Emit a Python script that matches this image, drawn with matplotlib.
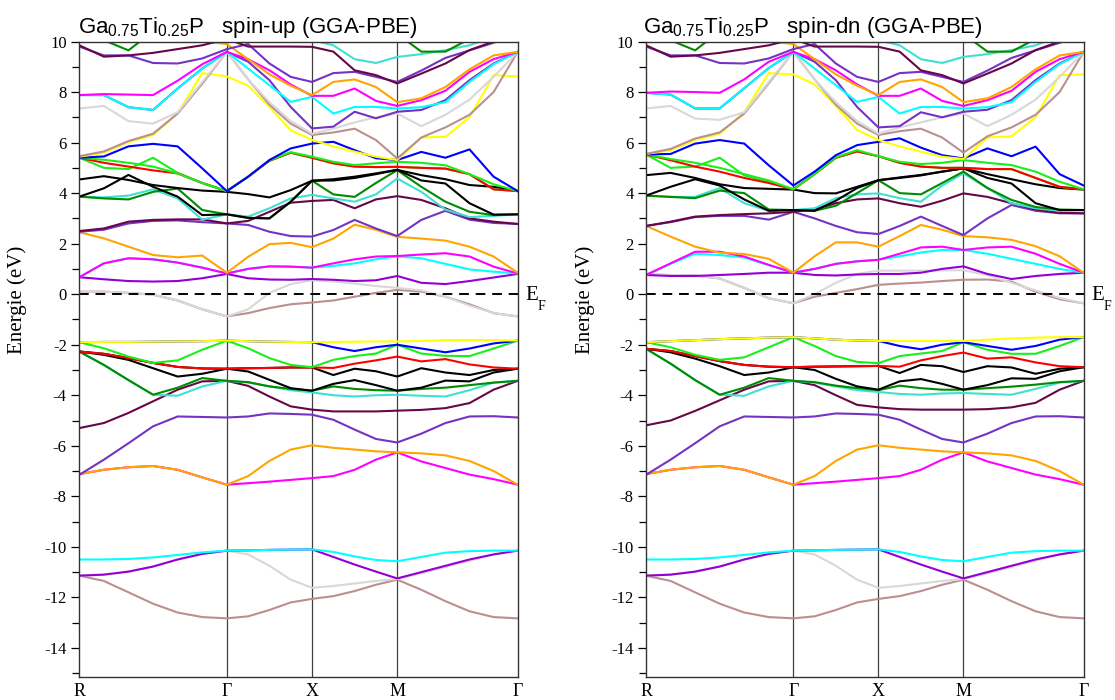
import numpy as np
import matplotlib.pyplot as plt

plt.rcParams['axes.unicode_minus'] = False
plt.rcParams['mathtext.default'] = 'regular'

# high-symmetry path of the simple-cubic supercell
k_labels = ["R", "Γ", "X", "M", "Γ"]
k_nodes = [0.0, 1.732, 2.732, 3.732, 5.146]
n_seg = [6, 4, 4, 5]

k = [k_nodes[0]]
for a, b, n in zip(k_nodes[:-1], k_nodes[1:], n_seg):
    k.extend(np.linspace(a, b, n + 1)[1:])
k = np.array(k)

# xmgrace palette
colors = {
    'black': '#000000', 'red': '#ff0000', 'green': '#19f019', 'blue': '#0000ff',
    'yellow': '#ffff00', 'brown': '#bc8f8f', 'grey': '#d8d8d8', 'violet': '#9400d3',
    'cyan': '#00ffff', 'magenta': '#ff00ff', 'orange': '#ffa500', 'indigo': '#7433c4',
    'maroon': '#670748', 'turquoise': '#40e0d0', 'green4': '#008b00',
}

# ---- semicore / lower valence bands (eV), same for both spins ----
core_brown = [-11.14, -11.35, -11.8, -12.25, -12.6, -12.78, -12.83, -12.75, -12.5, -12.2, -12.06, -11.95, -11.75, -11.5, -11.3, -11.7, -12.15, -12.55, -12.78, -12.83]
core_grey = [-11.14, -11.1, -10.98, -10.78, -10.5, -10.28, -10.15, -10.3, -10.75, -11.3, -11.62, -11.55, -11.45, -11.35, -11.27, -11.05, -10.8, -10.55, -10.3, -10.15]
core_violet = [-11.14, -11.1, -10.98, -10.78, -10.5, -10.28, -10.15, -10.14, -10.12, -10.11, -10.1, -10.4, -10.7, -10.98, -11.25, -11.0, -10.75, -10.5, -10.3, -10.15]
core_cyan = [-10.5, -10.5, -10.48, -10.42, -10.32, -10.22, -10.15, -10.14, -10.12, -10.11, -10.1, -10.2, -10.38, -10.52, -10.57, -10.4, -10.23, -10.17, -10.15, -10.15]

val_magenta = [-7.12, -6.95, -6.85, -6.8, -6.95, -7.25, -7.54, -7.48, -7.42, -7.35, -7.28, -7.2, -6.95, -6.55, -6.26, -6.62, -6.88, -7.14, -7.32, -7.54]
val_orange = [-7.12, -6.95, -6.85, -6.8, -6.95, -7.25, -7.54, -7.2, -6.6, -6.15, -5.98, -6.08, -6.15, -6.22, -6.26, -6.3, -6.38, -6.6, -7.0, -7.54]
val_indigo = [-7.15, -6.55, -5.9, -5.23, -4.84, -4.86, -4.88, -4.84, -4.72, -4.74, -4.77, -4.97, -5.36, -5.73, -5.87, -5.52, -5.1, -4.84, -4.83, -4.88]

# ---- spin-up: upper valence ----
up_val_maroon = [-5.3, -5.1, -4.7, -4.24, -3.78, -3.45, -3.43, -3.63, -4.05, -4.44, -4.57, -4.64, -4.64, -4.64, -4.61, -4.58, -4.51, -4.31, -3.78, -3.43]
up_val_turquoise = [-2.27, -2.8, -3.4, -3.98, -4.02, -3.65, -3.43, -3.5, -3.65, -3.8, -3.89, -4.0, -4.05, -4.0, -3.98, -4.02, -4.05, -3.8, -3.5, -3.43]
up_val_green4 = [-2.27, -2.8, -3.4, -3.98, -3.7, -3.32, -3.43, -3.48, -3.65, -3.75, -3.82, -3.65, -3.75, -3.8, -3.82, -3.75, -3.7, -3.6, -3.5, -3.43]
up_val_black1 = [-2.27, -2.4, -2.6, -2.93, -3.26, -3.15, -2.95, -3.06, -3.39, -3.72, -3.82, -3.55, -3.4, -3.6, -3.82, -3.7, -3.42, -3.45, -3.1, -2.95]
up_val_black2 = [-2.27, -2.36, -2.53, -2.72, -2.88, -2.94, -2.95, -2.93, -2.92, -2.9, -2.9, -3.2, -2.95, -3.05, -3.26, -2.93, -3.1, -3.2, -3.0, -2.95]
up_val_red = [-2.27, -2.36, -2.53, -2.72, -2.88, -2.94, -2.95, -2.93, -2.92, -2.9, -2.9, -2.92, -2.75, -2.62, -2.47, -2.66, -2.57, -2.78, -2.9, -2.95]
up_val_green = [-1.9, -2.14, -2.47, -2.72, -2.62, -2.2, -1.84, -2.14, -2.53, -2.8, -2.89, -2.6, -2.45, -2.35, -2.0, -2.35, -2.44, -2.45, -2.15, -1.84]
up_val_blue = [-1.9, -1.89, -1.89, -1.88, -1.87, -1.86, -1.84, -1.86, -1.88, -1.89, -1.9, -2.1, -2.25, -2.1, -2.0, -2.15, -2.3, -2.15, -1.95, -1.84]
up_val_yellow = [-1.9, -1.89, -1.89, -1.88, -1.87, -1.86, -1.84, -1.86, -1.88, -1.89, -1.9, -1.89, -1.88, -1.87, -1.87, -1.85, -1.82, -1.81, -1.82, -1.84]

# ---- spin-dn: upper valence ----
dn_val_maroon = [-5.19, -5.0, -4.62, -4.2, -3.78, -3.45, -3.43, -3.6, -4.0, -4.38, -4.48, -4.55, -4.57, -4.57, -4.57, -4.55, -4.48, -4.3, -3.78, -3.43]
dn_val_turquoise = [-2.16, -2.75, -3.4, -3.98, -4.02, -3.65, -3.43, -3.5, -3.65, -3.8, -3.87, -3.95, -3.98, -3.93, -3.91, -3.95, -3.98, -3.75, -3.5, -3.43]
dn_val_green4 = [-2.16, -2.75, -3.4, -3.98, -3.7, -3.32, -3.43, -3.48, -3.62, -3.72, -3.8, -3.62, -3.72, -3.78, -3.78, -3.72, -3.66, -3.58, -3.48, -3.43]
dn_val_black1 = [-2.16, -2.3, -2.55, -2.85, -3.2, -3.1, -2.89, -3.0, -3.35, -3.65, -3.78, -3.45, -3.36, -3.55, -3.78, -3.6, -3.33, -3.35, -3.05, -2.89]
dn_val_black2 = [-2.16, -2.25, -2.45, -2.65, -2.8, -2.87, -2.89, -2.87, -2.86, -2.85, -2.84, -3.12, -2.8, -2.85, -3.08, -2.85, -2.9, -3.15, -2.95, -2.89]
dn_val_red = [-2.16, -2.25, -2.45, -2.65, -2.8, -2.87, -2.89, -2.87, -2.86, -2.85, -2.84, -2.87, -2.62, -2.45, -2.31, -2.55, -2.5, -2.7, -2.85, -2.89]
dn_val_green = [-1.9, -2.1, -2.4, -2.6, -2.5, -2.1, -1.7, -2.05, -2.45, -2.68, -2.73, -2.45, -2.35, -2.25, -1.9, -2.2, -2.36, -2.36, -2.05, -1.7]
dn_val_blue = [-1.9, -1.86, -1.82, -1.78, -1.75, -1.72, -1.7, -1.75, -1.8, -1.83, -1.85, -2.05, -2.18, -2.0, -1.9, -2.05, -2.2, -2.05, -1.8, -1.7]
dn_val_yellow = [-1.9, -1.86, -1.82, -1.78, -1.75, -1.72, -1.7, -1.75, -1.8, -1.83, -1.85, -1.85, -1.85, -1.85, -1.85, -1.8, -1.75, -1.72, -1.7, -1.7]

# ---- spin-up: bands around E_F and conduction bands ----
up_ef_brown = [0.1, 0.1, 0.05, -0.02, -0.25, -0.6, -0.88, -0.75, -0.55, -0.4, -0.33, -0.25, -0.1, 0.05, 0.17, 0.1, -0.1, -0.4, -0.75, -0.88]
up_ef_grey = [0.1, 0.1, 0.05, -0.02, -0.25, -0.6, -0.88, -0.6, 0.05, 0.4, 0.55, 0.5, 0.42, 0.32, 0.25, 0.15, -0.1, -0.45, -0.75, -0.88]
up_violet = [0.67, 0.59, 0.52, 0.5, 0.52, 0.63, 0.8, 0.63, 0.58, 0.57, 0.6, 0.57, 0.52, 0.55, 0.72, 0.45, 0.4, 0.52, 0.66, 0.8]
up_cyan = [0.67, 1.22, 1.42, 1.38, 1.25, 1.05, 0.82, 1.0, 1.1, 1.09, 1.05, 1.12, 1.22, 1.38, 1.5, 1.42, 1.2, 0.98, 0.89, 0.82]
up_magenta = [0.67, 1.22, 1.42, 1.38, 1.25, 1.05, 0.82, 1.0, 1.1, 1.09, 1.05, 1.22, 1.38, 1.49, 1.51, 1.57, 1.62, 1.49, 1.09, 0.82]
up_orange = [2.45, 2.21, 1.88, 1.55, 1.46, 1.53, 0.85, 1.48, 1.98, 2.03, 1.86, 2.2, 2.75, 2.55, 2.27, 2.2, 2.12, 1.88, 1.49, 0.85]
up_indigo = [2.47, 2.55, 2.8, 2.9, 2.92, 2.85, 2.8, 2.74, 2.47, 2.3, 2.28, 2.54, 2.94, 2.6, 2.3, 2.94, 3.3, 2.95, 2.82, 2.78]
up_maroon = [2.5, 2.6, 2.87, 2.94, 2.96, 2.96, 2.8, 2.9, 3.26, 3.62, 3.69, 3.73, 3.4, 3.75, 3.88, 3.73, 3.4, 3.0, 2.87, 2.78]
up_turquoise = [3.86, 3.83, 3.9, 4.15, 3.79, 2.95, 3.16, 3.07, 3.4, 3.79, 3.93, 3.79, 3.66, 3.95, 4.58, 4.05, 3.35, 3.05, 3.1, 3.16]
up_green4 = [3.86, 3.79, 3.75, 4.05, 4.18, 3.33, 3.16, 3.02, 3.0, 3.66, 4.49, 3.95, 3.85, 4.4, 4.91, 4.25, 3.66, 3.26, 3.13, 3.16]
up_black1 = [3.86, 4.19, 4.72, 4.25, 3.86, 3.13, 3.16, 3.02, 3.0, 3.66, 4.49, 4.5, 4.6, 4.75, 4.92, 4.5, 4.38, 3.6, 3.15, 3.16]
up_black2 = [4.54, 4.67, 4.52, 4.32, 4.2, 4.1, 4.05, 3.96, 3.83, 4.12, 4.49, 4.55, 4.65, 4.78, 4.92, 4.71, 4.55, 4.32, 4.25, 4.08]
up_green_b = [5.4, 5.0, 4.95, 5.4, 4.8, 4.4, 4.08, 4.65, 5.28, 5.6, 5.4, 5.18, 5.05, 5.03, 5.04, 5.0, 4.97, 4.75, 4.15, 4.08]
up_red = [5.4, 5.2, 5.05, 4.9, 4.78, 4.4, 4.08, 4.65, 5.28, 5.6, 5.4, 5.18, 5.05, 5.03, 5.04, 5.0, 4.97, 4.75, 4.15, 4.08]
up_green = [5.4, 5.32, 5.2, 5.05, 4.78, 4.4, 4.08, 4.65, 5.3, 5.62, 5.44, 5.24, 5.11, 5.18, 5.24, 5.2, 5.1, 4.75, 4.35, 4.08]
up_blue = [5.4, 5.45, 5.85, 5.95, 5.85, 4.98, 4.08, 4.65, 5.31, 5.77, 5.96, 6.03, 5.7, 5.38, 5.31, 5.63, 5.4, 5.73, 4.65, 4.08]
up_yellow = [5.44, 5.6, 6.02, 6.3, 7.15, 8.75, 8.62, 8.25, 7.41, 6.49, 6.1, 5.85, 5.64, 5.44, 5.31, 6.2, 6.23, 7.0, 8.67, 8.62]
up_brown = [5.46, 5.65, 6.06, 6.35, 7.15, 8.33, 9.59, 8.5, 7.5, 6.75, 6.3, 6.4, 6.55, 6.1, 5.37, 6.2, 6.6, 7.1, 8.0, 9.59]
up_grey = [7.35, 7.45, 6.85, 6.75, 7.2, 8.4, 9.59, 8.5, 7.6, 6.85, 6.35, 6.55, 6.8, 7.0, 7.15, 6.65, 7.1, 7.7, 8.6, 9.59]
up_indigo2 = [7.88, 7.88, 7.4, 7.29, 8.14, 8.93, 9.59, 9.2, 8.47, 7.41, 6.56, 6.63, 7.22, 6.96, 7.22, 7.29, 7.68, 8.47, 9.13, 9.59]
up_cyan2 = [7.88, 7.88, 7.4, 7.29, 8.14, 8.93, 9.59, 8.93, 8.27, 7.61, 7.81, 7.15, 7.41, 7.41, 7.35, 7.4, 7.6, 8.4, 9.1, 9.59]
up_magenta2 = [7.88, 7.92, 7.9, 7.88, 8.45, 9.1, 9.59, 9.3, 8.86, 8.3, 7.85, 7.85, 8.14, 7.65, 7.45, 7.68, 8.05, 8.8, 9.3, 9.59]
up_orange2 = [10.3, 10.3, 10.2, 10.2, 10.1, 10.0, 9.9, 9.3, 8.7, 8.25, 7.88, 8.4, 8.5, 8.2, 7.6, 7.75, 8.2, 8.9, 9.45, 9.59]
up_indigo3 = [9.8, 9.45, 9.45, 9.15, 9.13, 9.33, 9.7, 9.9, 9.13, 8.6, 8.4, 8.75, 8.8, 8.6, 8.4, 8.85, 9.35, 9.65, 9.95, 10.3]
up_maroon2 = [9.85, 9.4, 9.45, 9.55, 9.7, 9.85, 10.1, 9.8, 9.8, 9.8, 9.79, 9.6, 8.86, 8.67, 8.34, 8.73, 9.13, 9.66, 10.0, 10.3]
up_turquoise2 = [10.5, 10.5, 10.5, 10.5, 10.5, 10.5, 10.5, 10.5, 10.4, 10.2, 10.05, 9.85, 9.3, 9.15, 9.39, 9.5, 9.66, 9.85, 10.2, 10.5]
up_green4_2 = [10.5, 10.05, 9.65, 10.4, 10.8, 10.8, 10.8, 10.8, 10.8, 10.8, 10.8, 10.8, 10.8, 10.6, 10.3, 9.6, 9.6, 10.1, 10.5, 10.8]

# ---- spin-dn: bands around E_F and conduction bands ----
dn_ef_brown = [0.78, 0.76, 0.74, 0.62, 0.25, -0.16, -0.36, -0.1, 0.05, 0.2, 0.37, 0.42, 0.46, 0.52, 0.57, 0.58, 0.5, 0.1, -0.2, -0.36]
dn_ef_grey = [0.78, 0.76, 0.74, 0.62, 0.25, -0.16, -0.36, 0.0, 0.45, 0.8, 0.93, 0.93, 0.93, 0.94, 0.95, 0.75, 0.45, 0.15, -0.15, -0.36]
dn_violet = [0.76, 0.72, 0.72, 0.76, 0.8, 0.85, 0.85, 0.76, 0.74, 0.78, 0.8, 0.8, 0.85, 1.0, 1.1, 0.8, 0.6, 0.72, 0.8, 0.85]
dn_cyan = [0.76, 1.2, 1.6, 1.55, 1.45, 1.15, 0.85, 1.0, 1.2, 1.3, 1.36, 1.5, 1.65, 1.75, 1.75, 1.6, 1.4, 1.2, 1.0, 0.85]
dn_magenta = [0.76, 1.22, 1.68, 1.68, 1.49, 1.16, 0.85, 1.0, 1.2, 1.3, 1.36, 1.6, 1.85, 1.88, 1.75, 1.85, 1.88, 1.6, 1.2, 0.85]
dn_orange = [2.7, 2.28, 1.88, 1.64, 1.59, 1.4, 0.85, 1.5, 2.05, 2.05, 1.88, 2.3, 2.74, 2.55, 2.3, 2.25, 2.15, 1.9, 1.5, 0.85]
dn_indigo = [2.7, 2.85, 3.05, 3.1, 3.1, 2.95, 3.26, 3.0, 2.7, 2.45, 2.38, 2.7, 3.07, 2.7, 2.34, 3.0, 3.53, 3.3, 3.2, 3.2]
dn_maroon = [2.7, 2.87, 3.07, 3.13, 3.17, 3.2, 3.26, 3.35, 3.6, 3.75, 3.79, 3.6, 3.46, 3.7, 3.99, 3.85, 3.6, 3.35, 3.22, 3.2]
dn_turquoise = [3.9, 3.85, 3.85, 4.2, 3.6, 3.3, 3.33, 3.4, 3.8, 3.95, 3.99, 3.8, 3.66, 4.3, 4.78, 4.2, 3.6, 3.4, 3.3, 3.33]
dn_green4 = [3.9, 3.85, 3.8, 4.1, 4.0, 3.35, 3.33, 3.3, 3.5, 4.0, 4.51, 4.0, 3.95, 4.4, 4.85, 4.2, 3.73, 3.45, 3.35, 3.33]
dn_black1 = [3.9, 4.25, 4.55, 4.3, 3.75, 3.3, 3.33, 3.3, 3.7, 4.2, 4.51, 4.6, 4.7, 4.85, 4.98, 4.6, 4.38, 3.6, 3.33, 3.33]
dn_black2 = [4.71, 4.8, 4.6, 4.35, 4.2, 4.17, 4.14, 4.0, 3.99, 4.25, 4.51, 4.62, 4.72, 4.85, 4.98, 4.75, 4.55, 4.35, 4.2, 4.14]
dn_green_b = [5.53, 5.0, 5.05, 5.4, 4.7, 4.45, 4.15, 4.75, 5.4, 5.65, 5.46, 5.2, 5.05, 5.0, 5.0, 4.95, 4.95, 4.6, 4.25, 4.15]
dn_red = [5.53, 5.3, 5.05, 4.85, 4.6, 4.4, 4.15, 4.75, 5.4, 5.65, 5.46, 5.2, 5.05, 5.0, 5.0, 4.95, 4.95, 4.6, 4.25, 4.15]
dn_green = [5.53, 5.35, 5.2, 5.0, 4.75, 4.5, 4.15, 4.75, 5.42, 5.7, 5.46, 5.24, 5.15, 5.2, 5.31, 5.2, 5.11, 4.85, 4.45, 4.15]
dn_blue = [5.53, 5.55, 5.96, 6.1, 5.96, 5.1, 4.3, 4.85, 5.5, 5.9, 6.03, 6.17, 5.8, 5.5, 5.37, 5.77, 5.46, 5.84, 4.75, 4.3]
dn_yellow = [5.55, 5.7, 6.1, 6.35, 7.2, 8.75, 8.7, 8.3, 7.45, 6.5, 6.1, 5.85, 5.64, 5.44, 5.35, 6.2, 6.25, 7.0, 8.67, 8.7]
dn_brown = [5.55, 5.75, 6.16, 6.4, 7.15, 8.35, 9.59, 8.5, 7.5, 6.75, 6.3, 6.45, 6.55, 6.2, 5.6, 6.25, 6.6, 7.1, 8.0, 9.59]
dn_grey = [7.35, 7.45, 6.95, 6.9, 7.2, 8.4, 9.59, 8.5, 7.6, 6.85, 6.35, 6.6, 6.8, 7.0, 7.15, 6.65, 7.1, 7.7, 8.6, 9.59]
dn_indigo2 = [7.97, 7.9, 7.35, 7.35, 8.15, 8.95, 9.59, 9.2, 8.47, 7.41, 6.6, 6.65, 7.2, 7.0, 7.22, 7.3, 7.68, 8.47, 9.13, 9.59]
dn_cyan2 = [7.97, 7.9, 7.35, 7.35, 8.15, 8.95, 9.59, 8.93, 8.27, 7.61, 7.81, 7.15, 7.41, 7.41, 7.35, 7.4, 7.6, 8.4, 9.1, 9.59]
dn_magenta2 = [7.97, 8.02, 8.0, 7.97, 8.5, 9.2, 9.59, 9.3, 8.86, 8.3, 7.85, 7.85, 8.14, 7.65, 7.45, 7.68, 8.05, 8.8, 9.3, 9.59]
dn_orange2 = [10.3, 10.3, 10.2, 10.2, 10.1, 10.0, 9.9, 9.3, 8.7, 8.25, 7.88, 8.4, 8.5, 8.2, 7.6, 7.75, 8.2, 8.9, 9.45, 9.59]
dn_indigo3 = [9.8, 9.45, 9.45, 9.15, 9.13, 9.33, 9.7, 9.9, 9.13, 8.6, 8.4, 8.75, 8.8, 8.6, 8.4, 8.85, 9.35, 9.65, 9.95, 10.3]
dn_maroon2 = [9.85, 9.4, 9.45, 9.55, 9.7, 9.85, 10.1, 9.8, 9.8, 9.8, 9.79, 9.6, 8.86, 8.67, 8.34, 8.73, 9.13, 9.66, 10.0, 10.3]
dn_turquoise2 = [10.5, 10.5, 10.5, 10.5, 10.5, 10.5, 10.5, 10.5, 10.4, 10.2, 10.05, 9.85, 9.3, 9.15, 9.39, 9.5, 9.66, 9.85, 10.2, 10.5]
dn_green4_2 = [10.5, 10.05, 9.65, 10.4, 10.8, 10.8, 10.8, 10.8, 10.8, 10.8, 10.8, 10.8, 10.8, 10.6, 10.3, 9.6, 9.6, 10.1, 10.5, 10.8]

common = [
    ('brown', core_brown), ('grey', core_grey), ('violet', core_violet), ('cyan', core_cyan),
    ('magenta', val_magenta), ('orange', val_orange), ('indigo', val_indigo),
]
up_bands = common + [
    ('maroon', up_val_maroon), ('turquoise', up_val_turquoise), ('green4', up_val_green4),
    ('black', up_val_black1), ('black', up_val_black2), ('red', up_val_red),
    ('green', up_val_green), ('blue', up_val_blue), ('yellow', up_val_yellow),
    ('brown', up_ef_brown), ('grey', up_ef_grey),
    ('violet', up_violet), ('cyan', up_cyan), ('magenta', up_magenta), ('orange', up_orange),
    ('indigo', up_indigo), ('maroon', up_maroon), ('turquoise', up_turquoise), ('green4', up_green4),
    ('black', up_black1), ('black', up_black2), ('green', up_green_b), ('red', up_red),
    ('green', up_green), ('blue', up_blue), ('yellow', up_yellow), ('brown', up_brown),
    ('grey', up_grey), ('indigo', up_indigo2), ('cyan', up_cyan2), ('magenta', up_magenta2),
    ('orange', up_orange2), ('indigo', up_indigo3), ('maroon', up_maroon2),
    ('turquoise', up_turquoise2), ('green4', up_green4_2),
]
dn_bands = common + [
    ('maroon', dn_val_maroon), ('turquoise', dn_val_turquoise), ('green4', dn_val_green4),
    ('black', dn_val_black1), ('black', dn_val_black2), ('red', dn_val_red),
    ('green', dn_val_green), ('blue', dn_val_blue), ('yellow', dn_val_yellow),
    ('brown', dn_ef_brown), ('grey', dn_ef_grey),
    ('violet', dn_violet), ('cyan', dn_cyan), ('magenta', dn_magenta), ('orange', dn_orange),
    ('indigo', dn_indigo), ('maroon', dn_maroon), ('turquoise', dn_turquoise), ('green4', dn_green4),
    ('black', dn_black1), ('black', dn_black2), ('green', dn_green_b), ('red', dn_red),
    ('green', dn_green), ('blue', dn_blue), ('yellow', dn_yellow), ('brown', dn_brown),
    ('grey', dn_grey), ('indigo', dn_indigo2), ('cyan', dn_cyan2), ('magenta', dn_magenta2),
    ('orange', dn_orange2), ('indigo', dn_indigo3), ('maroon', dn_maroon2),
    ('turquoise', dn_turquoise2), ('green4', dn_green4_2),
]

serif = 'Liberation Serif'
sans = 'Liberation Sans'

fig = plt.figure(figsize=(11.15, 7.0), dpi=100)
ax_up = fig.add_axes([0.0711, 0.0329, 0.3932, 0.9078])
ax_dn = fig.add_axes([0.5794, 0.0329, 0.3925, 0.9078])


def draw_panel(ax, bands, title, title_x):
    for name, e in bands:
        ax.plot(k, e, color=colors[name], lw=1.5, solid_joinstyle='round')
    for kn in k_nodes[1:-1]:
        ax.axvline(kn, color='#404040', lw=0.9, zorder=0)
    ax.axhline(0, color='black', lw=1.4, ls=(0, (5, 3.5)))
    ax.set_xlim(k_nodes[0], k_nodes[-1])
    ax.set_ylim(-15.15, 10)
    ax.set_xticks(k_nodes)
    ax.set_xticklabels(k_labels, fontfamily=serif, fontsize=13)
    ax.tick_params(axis='x', length=0, pad=4)
    ax.set_yticks(range(-14, 11, 2))
    ax.set_yticks(range(-15, 11), minor=True)
    ax.tick_params(axis='y', which='major', direction='out', length=6, width=0.9, pad=3)
    ax.tick_params(axis='y', which='minor', direction='out', length=5, width=0.9)
    for lab in ax.get_yticklabels():
        lab.set_fontfamily(serif)
        lab.set_fontsize(12)
    for sp in ax.spines.values():
        sp.set_linewidth(1.0)
        sp.set_color('#333333')
    # Fermi level label
    tr = ax.get_yaxis_transform()
    ax.text(1.017, -0.05, 'E', transform=tr, fontfamily=serif, fontsize=15,
            ha='left', va='center', clip_on=False)
    ax.text(1.045, -0.5, 'F', transform=tr, fontfamily=serif, fontsize=10,
            ha='left', va='center', clip_on=False)
    fig.text(title_x, 1 - 33 / 700, title, fontfamily=sans, fontsize=16,
             ha='left', va='baseline')


draw_panel(ax_up, up_bands,
           r'Ga$_{0.75}$Ti$_{0.25}$P   spin-up (GGA-PBE)', 78 / 1115)
draw_panel(ax_dn, dn_bands,
           r'Ga$_{0.75}$Ti$_{0.25}$P   spin-dn (GGA-PBE)', 643 / 1115)

fig.text(17 / 1115, 1 - 300 / 700, 'Energie (eV)', rotation=90, fontfamily=serif,
         fontsize=15, ha='center', va='center')
fig.text(585 / 1115, 1 - 300 / 700, 'Energie (eV)', rotation=90, fontfamily=serif,
         fontsize=15, ha='center', va='center')

fig.savefig('out.png', dpi=100)
